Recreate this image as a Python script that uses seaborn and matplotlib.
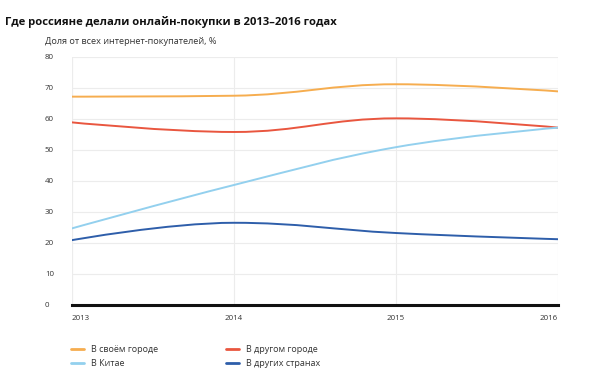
import numpy as np
import pandas as pd
import matplotlib
matplotlib.use("Agg")
import matplotlib.pyplot as plt
from matplotlib.path import Path
from matplotlib.patches import PathPatch
import seaborn as sns

years = [2013, 2014, 2015, 2016]
own_city = [67.2, 67.5, 71.2, 68.9]
other_city = [58.9, 55.8, 60.2, 57.2]
china = [24.7, 38.7, 50.9, 57.2]
other_countries = [20.9, 26.5, 23.2, 21.2]
series_names = ["В своём городе", "В другом городе", "В Китае", "В других странах"]
colors = ["#F6AD4F", "#E9563F", "#93D0EE", "#2E5EAA"]
yticks = [0, 10, 20, 30, 40, 50, 60, 70, 80]

sns.set_theme(style="white")
plt.rcParams['font.family'] = ['Open Sans', 'DejaVu Sans']

df = pd.DataFrame({
    "year": years * 4,
    "value": own_city + other_city + china + other_countries,
    "series": sum([[n] * 4 for n in series_names], []),
})

fig = plt.figure(figsize=(6, 3.85), dpi=100)
ax = fig.add_axes([0.12, 0.208, 0.81, 0.644])

sns.lineplot(data=df, x="year", y="value", hue="series", palette=colors,
             hue_order=series_names, ax=ax, linewidth=1.4, legend=False)


def spline_path(xs, ys, smoothing=1.5):
    denom = smoothing + 1
    n = len(xs)
    verts = [(xs[0], ys[0])]
    codes = [Path.MOVETO]
    lefts, rights = [None] * n, [None] * n
    for i in range(1, n - 1):
        px, py = xs[i], ys[i]
        lx, ly = xs[i - 1], ys[i - 1]
        nx, ny = xs[i + 1], ys[i + 1]
        lcx = (smoothing * px + lx) / denom
        lcy = (smoothing * py + ly) / denom
        rcx = (smoothing * px + nx) / denom
        rcy = (smoothing * py + ny) / denom
        corr = ((rcy - lcy) * (rcx - px)) / (rcx - lcx) + py - rcy
        lcy += corr
        rcy += corr
        if lcy > max(ly, py):
            lcy = max(ly, py); rcy = 2 * py - lcy
        elif lcy < min(ly, py):
            lcy = min(ly, py); rcy = 2 * py - lcy
        if rcy > max(py, ny):
            rcy = max(py, ny); lcy = 2 * py - rcy
        elif rcy < min(py, ny):
            rcy = min(py, ny); lcy = 2 * py - rcy
        lefts[i] = (lcx, lcy)
        rights[i] = (rcx, rcy)
    for i in range(1, n):
        c1 = rights[i - 1] if rights[i - 1] is not None else (xs[i - 1], ys[i - 1])
        c2 = lefts[i] if lefts[i] is not None else (xs[i], ys[i])
        verts += [c1, c2, (xs[i], ys[i])]
        codes += [Path.CURVE4] * 3
    return Path(verts, codes)


for line, name, col in zip(ax.lines, series_names, colors):
    xs, ys = line.get_xdata(), line.get_ydata()
    line.set_visible(False)
    ax.add_patch(PathPatch(spline_path(list(xs), list(ys)), fill=False,
                           edgecolor=col, linewidth=1.4, zorder=3,
                           capstyle="round"))

ax.set_xlim(2013, 2016)
ax.set_ylim(0, 80)
ax.set_yticks(yticks)
ax.set_yticklabels([str(t) for t in yticks])
ax.set_xticks(years)
ax.set_xticklabels([str(y) for y in years])
ax.set_xlabel("")
ax.set_ylabel("")

for s in ["top", "right", "left"]:
    ax.spines[s].set_visible(False)
ax.spines["bottom"].set_color("#111111")
ax.spines["bottom"].set_linewidth(2.2)

ax.grid(True, axis="both", color="#ECECEC", linewidth=0.8)
ax.set_axisbelow(True)
ax.axvline(2013, color="#E4E4E4", linewidth=0.8, zorder=0)

ax.tick_params(axis="y", length=0, pad=19.5, labelsize=5.7, labelcolor="#333333")
for lbl in ax.get_yticklabels():
    lbl.set_horizontalalignment("left")
ax.tick_params(axis="x", length=0, pad=7, labelsize=5.7, labelcolor="#333333")
xl = ax.get_xticklabels()
xl[0].set_horizontalalignment("left")
xl[-1].set_horizontalalignment("right")

fig.text(5 / 600, 1 - 22 / 385, "Где россияне делали онлайн-покупки в 2013–2016 годах",
         fontsize=8.1, fontweight="bold", color="#111111", va="center", ha="left")
fig.text(45 / 600, 1 - 41 / 385, "Доля от всех интернет-покупателей, %",
         fontsize=6.6, color="#333333", va="center", ha="left")

handles = [plt.Line2D([], [], color=c, linewidth=2) for c in colors]
order = [0, 2, 1, 3]
leg = fig.legend([handles[i] for i in order], [series_names[i] for i in order],
                 ncol=2, loc="upper left", bbox_to_anchor=(63 / 600, 1 - 337 / 385),
                 frameon=False, fontsize=6.5, handlelength=1.45, handletextpad=0.75,
                 columnspacing=7.5, labelspacing=0.55)
for t in leg.get_texts():
    t.set_color("#333333")

fig.savefig("out.png", dpi=100, facecolor="white")
